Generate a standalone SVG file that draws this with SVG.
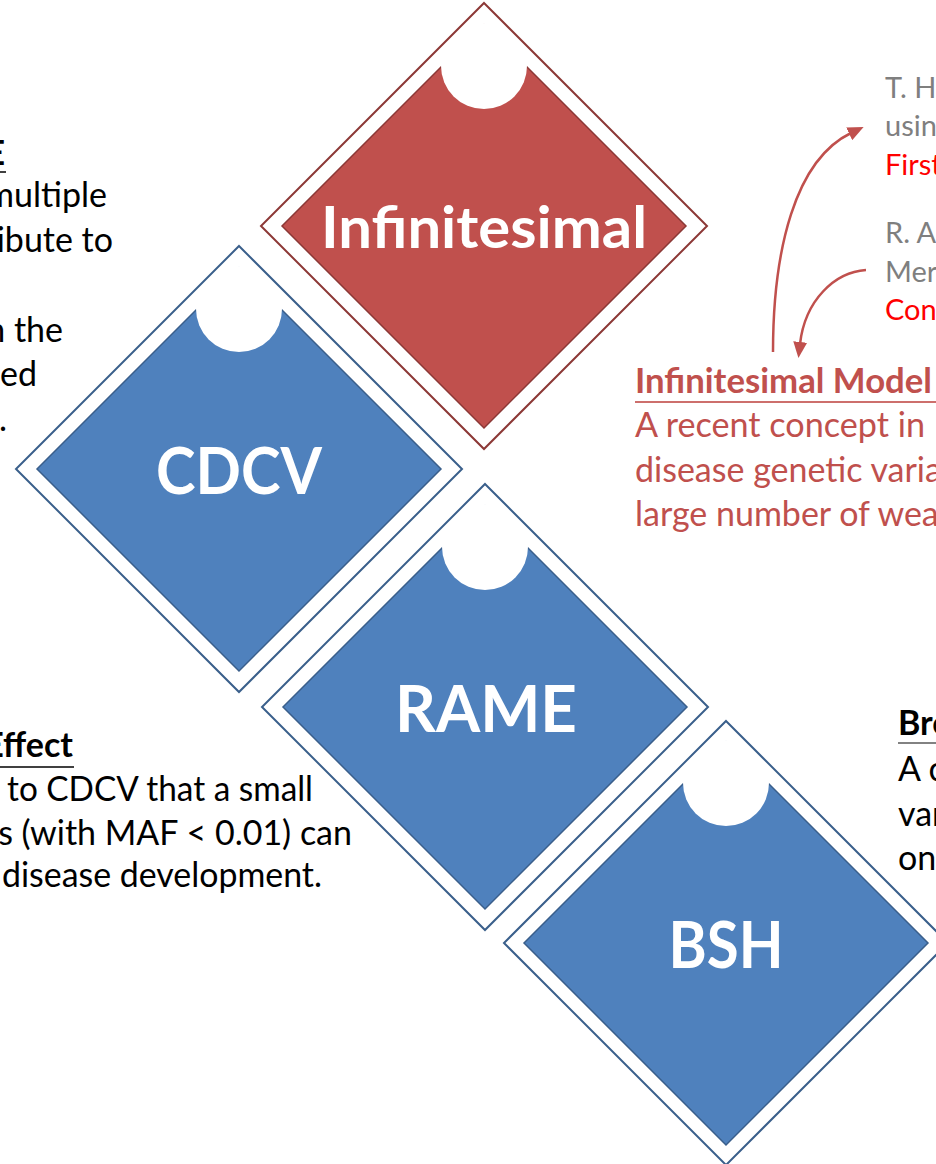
<svg xmlns="http://www.w3.org/2000/svg" width="936" height="1164" viewBox="0 0 936 1164">
  <defs>
    <style>
      .txt { font-family: "Lato", "Liberation Sans", sans-serif; font-size: 34px; fill: #000; }
      .bold { font-weight: bold; }
      .red { fill: #C0504D; }
      .ref { font-family: "Lato", "Liberation Sans", sans-serif; font-size: 29px; fill: #7F7F7F; }
      .hot { fill: #FF0000; }
      .label { font-family: "Lato", "Liberation Sans", sans-serif; font-weight: bold; fill: #FFFFFF; text-anchor: middle; }
      .in-blue { fill: #4F81BD; stroke: #3A5F8B; stroke-width: 1.5; }
      .out-blue { fill: none; stroke: #3A5F8B; stroke-width: 2; }
      .in-red { fill: #C0504D; stroke: #8C3836; stroke-width: 1.5; }
      .out-red { fill: none; stroke: #8C3836; stroke-width: 2; }
      .notch { fill: #FFFFFF; }
      .link { fill: none; stroke: #C0504D; stroke-width: 2.5; }
    </style>
    <marker id="head" viewBox="0 0 16 14" markerWidth="16" markerHeight="14" refX="2" refY="7" orient="auto" markerUnits="userSpaceOnUse">
      <path d="M0,0 L16,7 L0,14 Z" fill="#C0504D"/>
    </marker>
  </defs>

  <!-- Infinitesimal model (red diamond) -->
  <g id="node-infinitesimal">
    <path class="in-red" d="M484,24 L686,226 L484,428 L282,226 Z"/>
    <circle class="notch" cx="484" cy="66" r="43"/>
    <path class="out-red" d="M484,3 L707,226 L484,449 L261,226 Z"/>
    <text class="label" x="484" y="248" font-size="57" textLength="326" lengthAdjust="spacingAndGlyphs">Infinitesimal</text>
  </g>

  <!-- CDCV -->
  <g id="node-cdcv">
    <path class="in-blue" d="M239,267 L441,469 L239,671 L37,469 Z"/>
    <circle class="notch" cx="239" cy="309" r="43"/>
    <path class="out-blue" d="M239,246 L462,469 L239,692 L16,469 Z"/>
    <text class="label" x="239" y="494" font-size="65" textLength="166" lengthAdjust="spacingAndGlyphs">CDCV</text>
  </g>

  <!-- RAME -->
  <g id="node-rame">
    <path class="in-blue" d="M485,505 L687,707 L485,909 L283,707 Z"/>
    <circle class="notch" cx="485" cy="547" r="43"/>
    <path class="out-blue" d="M485,484 L708,707 L485,930 L262,707 Z"/>
    <text class="label" x="486" y="732" font-size="65" textLength="182" lengthAdjust="spacingAndGlyphs">RAME</text>
  </g>

  <!-- BSH -->
  <g id="node-bsh">
    <path class="in-blue" d="M726,741 L928,943 L726,1145 L524,943 Z"/>
    <circle class="notch" cx="726" cy="783" r="43"/>
    <path class="out-blue" d="M726,721 L948,943 L726,1165 L504,943 Z"/>
    <text class="label" x="726" y="968" font-size="65" textLength="115" lengthAdjust="spacingAndGlyphs">BSH</text>
  </g>

  <!-- citation arrows -->
  <g id="connectors">
    <path class="link" d="M773,352 C773,250 795,160 851,133" marker-end="url(#head)"/>
    <path class="link" d="M866,270 C835,272 805,300 800,344" marker-end="url(#head)"/>
  </g>

  <!-- CDCV description (upper left) -->
  <g id="note-cdcv">
    <text class="txt bold" x="5" y="165" text-anchor="end">E</text>
    <line x1="0" y1="172" x2="6" y2="172" stroke="#000" stroke-width="1.5"/>
    <text class="txt" x="107" y="207" text-anchor="end" textLength="121" lengthAdjust="spacingAndGlyphs">multiple</text>
    <text class="txt" x="113" y="252" text-anchor="end">ibute to</text>
    <text class="txt" x="63" y="342" text-anchor="end">n the</text>
    <text class="txt" x="37" y="386" text-anchor="end">ed</text>
    <text class="txt" x="7" y="431" text-anchor="end">.</text>
  </g>

  <!-- RAME description (lower left) -->
  <g id="note-rame">
    <text class="txt bold" x="73" y="757" text-anchor="end">Effect</text>
    <line x1="0" y1="767" x2="74" y2="767" stroke="#000" stroke-width="1.5"/>
    <text class="txt" x="7" y="801" textLength="306" lengthAdjust="spacingAndGlyphs">to CDCV that a small</text>
    <text class="txt" x="352" y="845" text-anchor="end">s (with MAF &lt; 0.01) can</text>
    <text class="txt" x="2" y="887" textLength="320" lengthAdjust="spacingAndGlyphs">disease development.</text>
  </g>

  <!-- BSH description (right) -->
  <g id="note-bsh">
    <text class="txt bold" x="898" y="735">Bro</text>
    <line x1="898" y1="743" x2="936" y2="743" stroke="#595959" stroke-width="1.5"/>
    <text class="txt" x="898" y="781">A c</text>
    <text class="txt" x="898" y="826">var</text>
    <text class="txt" x="898" y="870">on</text>
  </g>

  <!-- Infinitesimal model description -->
  <g id="note-infinitesimal">
    <text class="txt bold red" x="635" y="393" textLength="297" lengthAdjust="spacingAndGlyphs">Infinitesimal Model</text>
    <line x1="635" y1="402" x2="936" y2="402" stroke="#CD6F6C" stroke-width="2"/>
    <text class="txt red" x="635" y="437" textLength="290" lengthAdjust="spacingAndGlyphs">A recent concept in</text>
    <text class="txt red" x="635" y="482">disease genetic varia</text>
    <text class="txt red" x="635" y="526">large number of wea</text>
  </g>

  <!-- references -->
  <g id="refs">
    <text class="ref" x="885" y="98">T. H.</text>
    <text class="ref" x="885" y="136">usin</text>
    <text class="ref hot" x="885" y="175">First</text>
    <text class="ref" x="885" y="243">R. A</text>
    <text class="ref" x="885" y="282">Mer</text>
    <text class="ref hot" x="885" y="320">Con</text>
  </g>
</svg>
